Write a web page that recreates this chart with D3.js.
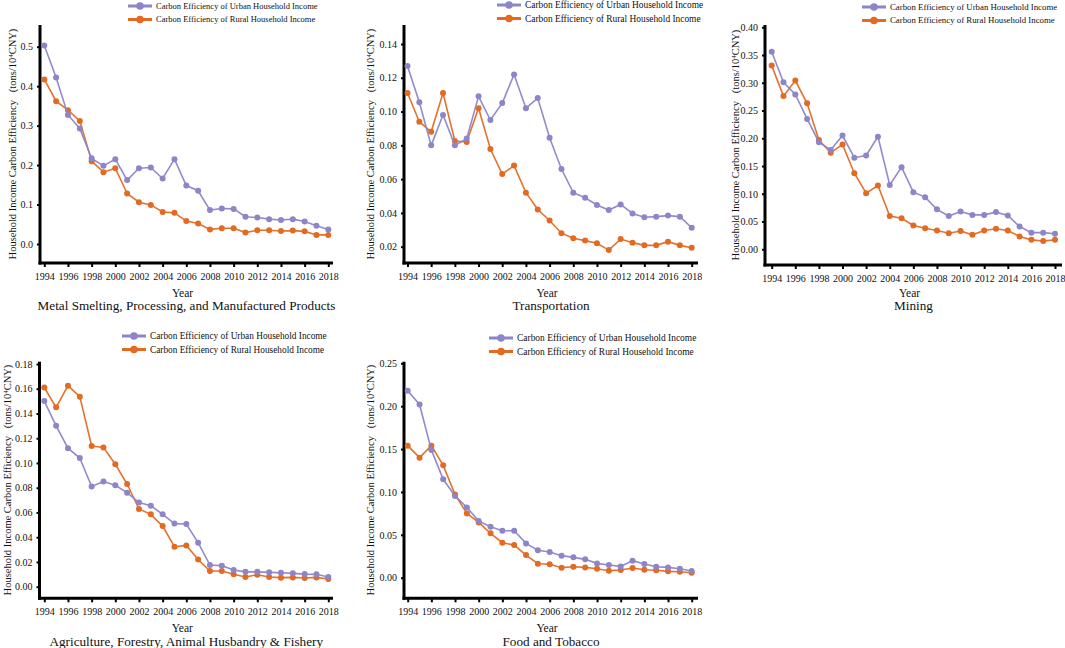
<!DOCTYPE html>
<html>
<head>
<meta charset="utf-8">
<script src="https://cdn.jsdelivr.net/npm/d3@7"></script>
<style>
  body { margin: 0; background: #fff; }
  svg { display: block; font-family: "Liberation Serif", "Times New Roman", serif; }
</style>
</head>
<body>
<svg id="chart" width="1065" height="648"></svg>
<script>
// ---- data ----
var years = [1994, 1995, 1996, 1997, 1998, 1999, 2000, 2001, 2002, 2003, 2004, 2005, 2006,
  2007, 2008, 2009, 2010, 2011, 2012, 2013, 2014, 2015, 2016, 2017, 2018];
var yearTicks = [1994, 1996, 1998, 2000, 2002, 2004, 2006, 2008, 2010, 2012, 2014, 2016, 2018];

var seriesNames = ["Carbon Efficiency of Urban Household Income", "Carbon Efficiency of Rural Household Income"];

var metalUrban = [0.503, 0.422, 0.327, 0.293, 0.217, 0.198, 0.215, 0.162, 0.192, 0.194, 0.166, 0.215, 0.148,
  0.135, 0.086, 0.090, 0.089, 0.069, 0.067, 0.063, 0.061, 0.063, 0.057, 0.046, 0.037];
var metalRural = [0.417, 0.362, 0.339, 0.312, 0.210, 0.182, 0.192, 0.128, 0.106, 0.099, 0.081, 0.079, 0.058,
  0.052, 0.037, 0.040, 0.040, 0.029, 0.035, 0.035, 0.033, 0.034, 0.032, 0.023, 0.023];
var metalTicks = [0.0, 0.1, 0.2, 0.3, 0.4, 0.5];

var transUrban = [0.127, 0.1055, 0.080, 0.098, 0.080, 0.084, 0.109, 0.095, 0.105, 0.122, 0.102, 0.108, 0.0845,
  0.066, 0.052, 0.049, 0.0447, 0.0417, 0.045, 0.0397, 0.0374, 0.0378, 0.0384, 0.0378, 0.0312];
var transRural = [0.111, 0.094, 0.088, 0.111, 0.0826, 0.082, 0.102, 0.0778, 0.063, 0.068, 0.052, 0.042, 0.0355,
  0.028, 0.025, 0.0236, 0.022, 0.018, 0.0245, 0.0224, 0.0208, 0.0208, 0.023, 0.0208, 0.0194];
var transTicks = [0.02, 0.04, 0.06, 0.08, 0.10, 0.12, 0.14];

var miningUrban = [0.356, 0.301, 0.279, 0.235, 0.193, 0.179, 0.205, 0.165, 0.169, 0.203, 0.116, 0.148, 0.103,
  0.094, 0.072, 0.060, 0.068, 0.062, 0.062, 0.067, 0.061, 0.041, 0.030, 0.030, 0.028];
var miningRural = [0.331, 0.276, 0.304, 0.263, 0.197, 0.174, 0.189, 0.137, 0.101, 0.115, 0.060, 0.056, 0.043,
  0.038, 0.034, 0.029, 0.033, 0.026, 0.034, 0.037, 0.034, 0.023, 0.017, 0.015, 0.017];
var miningTicks = [0.00, 0.05, 0.10, 0.15, 0.20, 0.25, 0.30, 0.35, 0.40];

var agriUrban = [0.150, 0.130, 0.112, 0.104, 0.081, 0.085, 0.082, 0.076, 0.068, 0.0655, 0.0585, 0.051, 0.0507,
  0.0356, 0.0175, 0.017, 0.0135, 0.012, 0.012, 0.0116, 0.0113, 0.0108, 0.0102, 0.010, 0.0078];
var agriRural = [0.161, 0.145, 0.1625, 0.1536, 0.1137, 0.1126, 0.099, 0.083, 0.0628, 0.0585, 0.049, 0.0323, 0.0334,
  0.022, 0.0127, 0.0127, 0.010, 0.0078, 0.0097, 0.0078, 0.0073, 0.0075, 0.007, 0.0075, 0.0062];
var agriTicks = [0.00, 0.02, 0.04, 0.06, 0.08, 0.10, 0.12, 0.14, 0.16, 0.18];

var foodUrban = [0.218, 0.202, 0.149, 0.1147, 0.0953, 0.082, 0.066, 0.0595, 0.0548, 0.0548, 0.040, 0.032, 0.030,
  0.0257, 0.0237, 0.0214, 0.0167, 0.0148, 0.0132, 0.0198, 0.016, 0.0128, 0.012, 0.0105, 0.0078];
var foodRural = [0.154, 0.140, 0.154, 0.131, 0.097, 0.075, 0.0645, 0.0517, 0.0408, 0.038, 0.0264, 0.0163, 0.0156,
  0.0117, 0.0128, 0.012, 0.0105, 0.0082, 0.009, 0.0113, 0.0093, 0.0086, 0.0074, 0.007, 0.0058];
var foodTicks = [0.00, 0.05, 0.10, 0.15, 0.20, 0.25];

// ---- layout (pixel geometry per panel) ----
var FONT = "'Liberation Serif', 'Times New Roman', serif";
var colors = ["#8c85c8", "#e26a22"];

var panels = [
  { title: "Metal Smelting, Processing, and Manufactured Products", urban: metalUrban, rural: metalRural,
    ticks: metalTicks, fmt: ".1f",
    ax: 40, axRight: 333, x0: 44.3, x1: 328.3, yTop: 25, yBot: 263, v0: 0.0, p0: 244, v1: 0.5, p1: 46.7,
    labelX: 16, yearY: 297, titleY: 310, legX: 128, legY: 6, legFs: 8.5 },
  { title: "Transportation", urban: transUrban, rural: transRural,
    ticks: transTicks, fmt: ".2f",
    ax: 404, axRight: 698, x0: 407.5, x1: 691.7, yTop: 25, yBot: 263, v0: 0.02, p0: 246.7, v1: 0.14, p1: 44,
    labelX: 374, yearY: 297, titleY: 310, legX: 497, legY: 5, legFs: 9.4 },
  { title: "Mining", urban: miningUrban, rural: miningRural,
    ticks: miningTicks, fmt: ".2f",
    ax: 765, axRight: 1062, x0: 771.7, x1: 1055, yTop: 25, yBot: 265, v0: 0.0, p0: 249.3, v1: 0.4, p1: 27.3,
    labelX: 739, yearY: 297, titleY: 310, legX: 862, legY: 7, legFs: 8.8 },
  { title: "Agriculture, Forestry, Animal Husbandry & Fishery", urban: agriUrban, rural: agriRural,
    ticks: agriTicks, fmt: ".2f",
    ax: 39.5, axRight: 333, x0: 44.3, x1: 328.3, yTop: 361.7, yBot: 598.3, v0: 0.0, p0: 586.7, v1: 0.18, p1: 364,
    labelX: 11, yearY: 632, titleY: 646, legX: 122, legY: 336, legFs: 9.3 },
  { title: "Food and Tobacco", urban: foodUrban, rural: foodRural,
    ticks: foodTicks, fmt: ".2f",
    ax: 404, axRight: 698, x0: 407.7, x1: 691.7, yTop: 361.7, yBot: 598.3, v0: 0.0, p0: 577.7, v1: 0.25, p1: 363.3,
    labelX: 374, yearY: 632, titleY: 646, legX: 489, legY: 338, legFs: 9.45 }
];

var svg = d3.select("#chart");

panels.forEach(function(p) {
  var g = svg.append("g");
  var x = d3.scaleLinear().domain([1994, 2018]).range([p.x0, p.x1]);
  var y = d3.scaleLinear().domain([p.v0, p.v1]).range([p.p0, p.p1]);

  // y axis
  var yAxis = d3.axisLeft(y).tickValues(p.ticks).tickFormat(d3.format(p.fmt))
    .tickSizeOuter(0).tickSize(3).tickPadding(4);
  var ya = g.append("g").attr("transform", "translate(" + p.ax + ",0)").call(yAxis)
    .attr("font-family", FONT);
  ya.select(".domain").remove();
  ya.selectAll(".tick line").attr("stroke", "#000").attr("stroke-width", 2);
  ya.selectAll(".tick text").attr("font-size", 10).attr("fill", "#111");

  // x axis
  var xAxis = d3.axisBottom(x).tickValues(yearTicks).tickFormat(d3.format("d"))
    .tickSizeOuter(0).tickSize(4).tickPadding(6);
  var xa = g.append("g").attr("transform", "translate(0," + p.yBot + ")").call(xAxis)
    .attr("font-family", FONT);
  xa.select(".domain").remove();
  xa.selectAll(".tick line").attr("stroke", "#000").attr("stroke-width", 2);
  xa.selectAll(".tick text").attr("font-size", 10).attr("fill", "#111");

  // thick axis lines
  g.append("line").attr("x1", p.ax).attr("x2", p.ax).attr("y1", p.yTop).attr("y2", p.yBot + 1.5)
    .attr("stroke", "#000").attr("stroke-width", 3);
  g.append("line").attr("x1", p.ax - 1.5).attr("x2", p.axRight).attr("y1", p.yBot).attr("y2", p.yBot)
    .attr("stroke", "#000").attr("stroke-width", 3);

  // series
  var line = d3.line().x(function(d, i) { return x(years[i]); }).y(function(d) { return y(d); });
  [p.rural, p.urban].forEach(function(vals, k) {
    var c = k === 0 ? colors[1] : colors[0];
    g.append("path").datum(vals).attr("d", line)
      .attr("fill", "none").attr("stroke", c).attr("stroke-width", 1.6).attr("opacity", 0.95);
    g.selectAll(null).data(vals).enter().append("circle")
      .attr("cx", function(d, i) { return x(years[i]); })
      .attr("cy", function(d) { return y(d); })
      .attr("r", 3)
      .attr("fill", c);
  });

  // y label
  var midY = (p.yTop + p.yBot) / 2;
  var lab = g.append("text")
    .attr("transform", "translate(" + p.labelX + "," + midY + ") rotate(-90)")
    .attr("text-anchor", "middle").attr("font-size", 10.5).attr("fill", "#111")
    .style("white-space", "pre");
  lab.append("tspan").text("Household Income Carbon Efficiency   (tons/10");
  lab.append("tspan").attr("dy", -3.5).attr("font-size", 7).text("4");
  lab.append("tspan").attr("dy", 3.5).text("CNY)");

  // x label and title
  var cx = (p.ax + p.axRight) / 2;
  g.append("text").attr("x", cx - 4).attr("y", p.yearY).attr("text-anchor", "middle")
    .attr("font-size", 11.5).attr("fill", "#111").text("Year");
  g.append("text").attr("x", cx).attr("y", p.titleY).attr("text-anchor", "middle")
    .attr("font-size", 13.2).attr("fill", "#111").text(p.title);

  // legend
  seriesNames.forEach(function(name, k) {
    var ly = p.legY + k * 13.5;
    g.append("line").attr("x1", p.legX).attr("x2", p.legX + 24).attr("y1", ly).attr("y2", ly)
      .attr("stroke", colors[k]).attr("stroke-width", 3);
    g.append("circle").attr("cx", p.legX + 12).attr("cy", ly).attr("r", 3.8).attr("fill", colors[k]);
    g.append("text").attr("x", p.legX + 28).attr("y", ly).attr("dy", "0.33em")
      .attr("font-size", p.legFs).attr("fill", "#111").text(name);
  });
});
</script>
</body>
</html>
